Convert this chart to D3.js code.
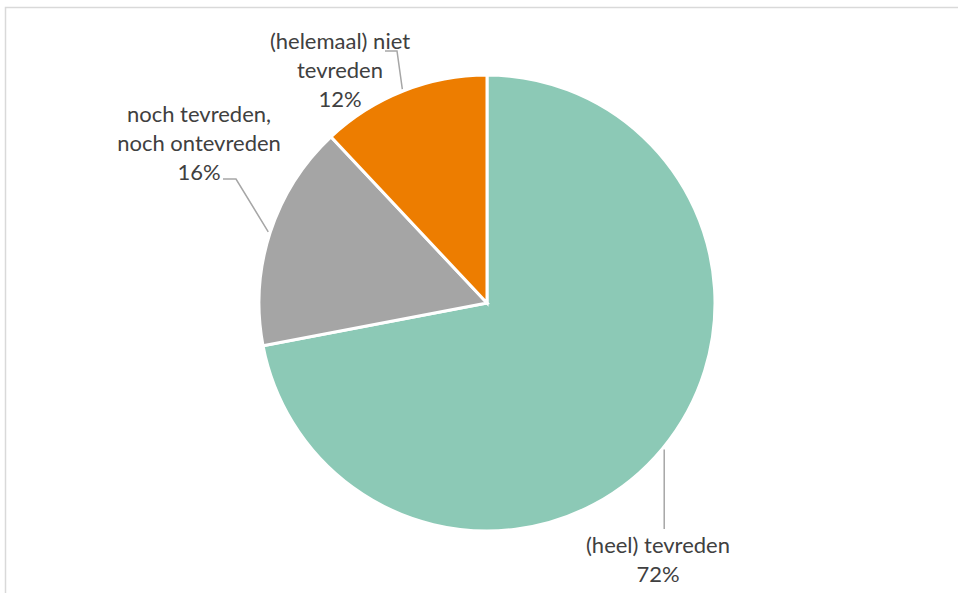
<!DOCTYPE html>
<html>
<head>
<meta charset="utf-8">
<script src="https://cdn.jsdelivr.net/npm/d3@7"></script>
<style>
  html, body { margin: 0; padding: 0; background: #fff; }
  svg { display: block; }
</style>
</head>
<body>
<svg id="chart" width="958" height="593"></svg>
<script>
// ---- data ----
const categories = ["(heel) tevreden", "noch tevreden, noch ontevreden", "(helemaal) niet tevreden"];
const values = [72, 16, 12];
const labelLines = [["(heel) tevreden", "72%"], ["noch tevreden,", "noch ontevreden", "16%"], ["(helemaal) niet", "tevreden", "12%"]];
const colors = ["#8CC9B6", "#A5A5A5", "#ED7D00"];

// ---- layout ----
const W = 958, H = 593;
const cx = 487, cy = 303, R = 228;
const fontFamily = "Lato, 'Open Sans', sans-serif";
const fontSize = 22;
const lineH = 29;
// label layout: anchor center x, first baseline y, and leader elbow points
const labelLayout = [
  { x: 658, y: 553, leader: (p) => [[p[0], p[1]], [p[0], 529]] },
  { x: 199, y: 122, leader: (p) => [[p[0], p[1]], [236, 179], [223, 179]] },
  { x: 340, y: 49,  leader: (p) => [[p[0], p[1]], [397, 51], [385, 51]] }
];

const svg = d3.select("#chart");

// frame
svg.append("path")
  .attr("d", `M5.5,${H} L5.5,7.5 L${W},7.5`)
  .attr("fill", "none")
  .attr("stroke", "#d9d9d9")
  .attr("stroke-width", 1.5);

const pie = d3.pie().sort(null).value(d => d)(values);
const arc = d3.arc().innerRadius(0).outerRadius(R);
const edgeArc = d3.arc().innerRadius(R + 2).outerRadius(R + 2);

const g = svg.append("g").attr("transform", `translate(${cx},${cy})`);
g.selectAll("path.slice")
  .data(pie)
  .join("path")
  .attr("class", "slice")
  .attr("d", arc)
  .attr("fill", (d, i) => colors[i])
  .attr("stroke", "#fff")
  .attr("stroke-width", 3)
  .attr("stroke-linejoin", "miter");

// leader lines
const line = d3.line();
pie.forEach((d, i) => {
  const c = edgeArc.centroid(d);
  const p = [c[0] + cx, c[1] + cy];
  svg.append("path")
    .attr("d", line(labelLayout[i].leader(p)))
    .attr("fill", "none")
    .attr("stroke", "#A6A6A6")
    .attr("stroke-width", 1.5);
});

// labels
labelLines.forEach((lines, i) => {
  const L = labelLayout[i];
  const t = svg.append("text")
    .attr("text-anchor", "middle")
    .attr("font-family", fontFamily)
    .attr("font-size", fontSize)
    .attr("fill", "#404040");
  lines.forEach((s, j) => {
    t.append("tspan").attr("x", L.x).attr("y", L.y + j * lineH).text(s);
  });
});
</script>
</body>
</html>
